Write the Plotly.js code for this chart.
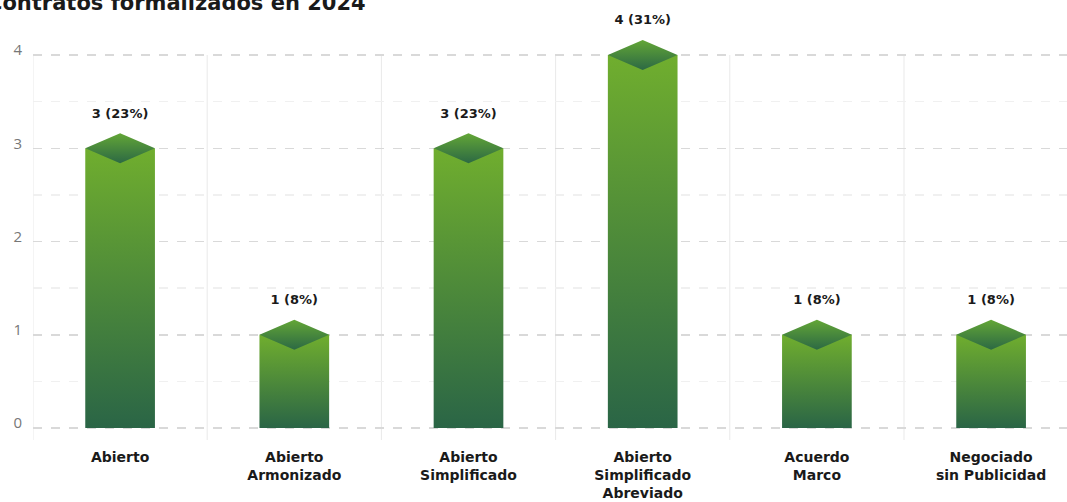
<!DOCTYPE html>
<html>
<head>
<meta charset="utf-8">
<script src="https://cdn.plot.ly/plotly-3.0.1.min.js"></script>
<style>
  html, body { margin: 0; padding: 0; background: #ffffff; }
  #chart { width: 1067px; height: 502px; }
</style>
</head>
<body>
<div id="chart"></div>
<script>
// ---- data ----
const titleText = "Contratos formalizados en 2024";
const categories = ["Abierto", "Abierto<br>Armonizado", "Abierto<br>Simplificado",
                    "Abierto<br>Simplificado<br>Abreviado", "Acuerdo<br>Marco", "Negociado<br>sin Publicidad"];
const counts = [3, 1, 3, 4, 1, 1];
const yTicks = [0, 1, 2, 3, 4];
const yMinorTicks = [0.5, 1.5, 2.5, 3.5];

// ---- styles ----
const BAR_DARK = "#2a6546";
const BAR_LIGHT = "#70ae2e";
const CAP_DARK = "#2c6944";
const CAP_LIGHT = "#63a636";
const BOLD_FONT = "DejaVu Sans, sans-serif";
const HALF_W = 0.2;

const W = 1067, H = 502;
const margin = {l: 33, r: 0, t: 5, b: 62};
const plotH = H - margin.t - margin.b;
const pxPerUnit = 93.25;
const yRange = [-12 / pxPerUnit, 4 + 50 / pxPerUnit];
const capH = 15 / pxPerUnit;       // diamond half-height in data units
const labelOff = 34 / pxPerUnit;   // label centre above bar value

const total = counts.reduce((a, b) => a + b, 0);
const traces = [];
counts.forEach((v, i) => {
  traces.push({
    type: "scatter", mode: "lines", hoverinfo: "skip", showlegend: false,
    x: [i - HALF_W, i + HALF_W, i + HALF_W, i - HALF_W, i - HALF_W],
    y: [0, 0, v, v, 0],
    fill: "toself", line: {width: 0},
    fillgradient: {type: "vertical", colorscale: [[0, BAR_DARK], [1, BAR_LIGHT]]}
  });
  traces.push({
    type: "scatter", mode: "lines", hoverinfo: "skip", showlegend: false,
    x: [i - HALF_W, i, i + HALF_W, i, i - HALF_W],
    y: [v, v + capH, v, v - capH, v],
    fill: "toself", line: {width: 0},
    fillgradient: {type: "vertical", colorscale: [[0, CAP_DARK], [1, CAP_LIGHT]]}
  });
});
traces.push({
  type: "scatter", mode: "text", hoverinfo: "skip", showlegend: false, cliponaxis: false,
  x: counts.map((v, i) => i),
  y: counts.map(v => v + labelOff),
  text: counts.map(v => v + " (" + Math.round(100 * v / total) + "%)"),
  textposition: "middle center",
  textfont: {family: BOLD_FONT, size: 13, color: "#1a1a1a", weight: 700}
});

const plotW = W - margin.l - margin.r;
const xSpan = plotW / 174.2;
const shapes = [];
for (let k = 0; k < categories.length; k++) {
  shapes.push({
    type: "line", xref: "x", yref: "y", layer: "below",
    x0: k - 0.5, x1: k - 0.5, y0: yRange[0], y1: yTicks[yTicks.length - 1],
    line: {color: "#e9e9e9", width: 1}
  });
}

const layout = {
  width: W, height: H, margin: margin,
  paper_bgcolor: "#ffffff", plot_bgcolor: "#ffffff",
  showlegend: false,
  xaxis: {
    range: [-0.5, -0.5 + xSpan], tickvals: categories.map((c, i) => i), ticktext: categories,
    showgrid: false, zeroline: false, showline: false, ticks: "",
    ticklabelstandoff: 7,
    tickfont: {family: BOLD_FONT, size: 14, color: "#1a1a1a", weight: 700},
    fixedrange: true
  },
  yaxis: {
    range: yRange, tickvals: yTicks, ticktext: yTicks.map(String),
    showgrid: true, gridcolor: "#d9d9d9", gridwidth: 1.5, griddash: "dash",
    minor: {tickvals: yMinorTicks, showgrid: true, gridcolor: "#f0f0f0", gridwidth: 1.5, griddash: "dash", ticks: ""},
    zeroline: false, showline: false, ticks: "",
    ticklabelstandoff: 10, ticklabelshift: -5,
    tickfont: {family: "Open Sans, sans-serif", size: 15, color: "#777777"},
    fixedrange: true
  },
  shapes: shapes,
  annotations: [{
    text: "<b>" + titleText + "</b>", xref: "paper", yref: "paper",
    x: (-15 - margin.l) / plotW, y: 1 + (2 / plotH), xanchor: "left", yanchor: "middle",
    showarrow: false, font: {family: BOLD_FONT, size: 21, color: "#1a1a1a"}
  }]
};

Plotly.newPlot("chart", traces, layout, {displayModeBar: false, staticPlot: true});
</script>
</body>
</html>
